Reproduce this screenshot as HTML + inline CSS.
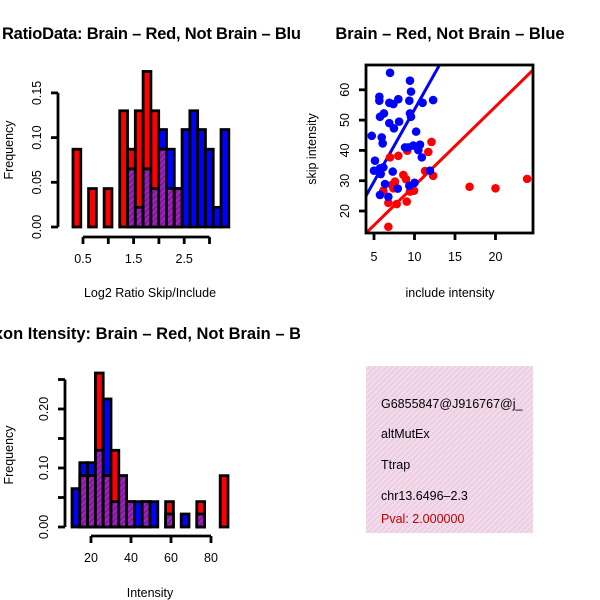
<!DOCTYPE html>
<html><head><meta charset="utf-8"><style>
body{margin:0;background:#fff;}
svg{display:block;font-family:"Liberation Sans",sans-serif;}
</style></head><body>
<svg id="c" width="600" height="600" viewBox="0 0 600 600">
<defs>
<clipPath id="left"><rect x="0" y="0" width="300" height="600"/></clipPath>
<clipPath id="sc"><rect x="366" y="65" width="167" height="168"/></clipPath>
<pattern id="hatch" width="4" height="4" patternUnits="userSpaceOnUse" patternTransform="rotate(45)">
<rect width="4" height="4" fill="#a020c0"/><rect width="1.5" height="4" fill="#7a1890"/></pattern>
<pattern id="pink" width="4" height="4" patternUnits="userSpaceOnUse" patternTransform="rotate(45)">
<rect width="4" height="4" fill="#f6d8f0"/><rect width="1.5" height="4" fill="#e6d0d8"/></pattern>
</defs>
<g clip-path="url(#left)">
<text x="301" y="39" text-anchor="end" font-size="16.5" font-weight="bold" textLength="342">Log2 RatioData: Brain – Red, Not Brain – Blu</text>
<text x="301" y="339" text-anchor="end" font-size="16.5" font-weight="bold">Exon Itensity: Brain – Red, Not Brain – B</text>
</g>
<text x="450" y="39" text-anchor="middle" font-size="16.5" font-weight="bold">Brain – Red, Not Brain – Blue</text>
<g id="p1"></g>
<g id="p2"></g>
<g id="p3"></g>
<g>
<rect x="366" y="366" width="167" height="167" fill="url(#pink)"/>
<text x="381" y="408" font-size="12.5">G6855847@J916767@j_</text>
<text x="381" y="438" font-size="12.5">altMutEx</text>
<text x="381" y="469" font-size="12.5">Ttrap</text>
<text x="381" y="500" font-size="12.5">chr13.6496–2.3</text>
<text x="381" y="523" font-size="12.5" fill="#c00000">Pval: 2.000000</text>
</g>
</svg>
<script>
// Panel 1 data
const ratioBinStart = 0.302;
const ratioBinWidth = 0.154;
const ratioRed = [0.087,0,0.043,0,0.043,0,0.13,0.087,0.13,0.174,0.13,0.087,0.043,0.043,0,0,0,0,0,0];
const ratioBlue = [0,0,0,0,0,0,0,0.065,0.022,0.065,0.043,0.109,0.087,0.043,0.109,0.13,0.109,0.087,0.022,0.109];
const ratioXTicks = [0.5,1.0,1.5,2.0,2.5,3.0];
const ratioXLabels = ["0.5","","1.5","","2.5",""];
const ratioYTicks = [0,0.05,0.10,0.15];
const ratioYLabels = ["0.00","0.05","0.10","0.15"];
// Panel 3 data
const intBinStart = 10.5;
const intBinWidth = 3.9;
const intRed = [0,0.087,0.087,0.261,0.087,0.13,0.087,0.043,0,0.043,0,0,0.043,0,0,0,0.043,0,0,0.087];
const intBlue = [0.065,0.109,0.109,0.13,0.217,0.043,0.087,0.043,0.043,0.043,0.043,0,0.022,0,0.022,0,0.022,0,0,0];
const intXTicks = [20,40,60,80];
const intYTicks = [0,0.05,0.10,0.15,0.20,0.25];
const intYLabels = ["0.00","","0.10","","0.20",""];
// Panel 2 data
const blueInclude = [6.98,5.66,5.66,6.89,7.39,8.0,9.44,9.57,9.36,11.0,12.3,6.23,5.74,6.89,8.1,7.46,9.44,9.57,10.2,4.72,5.95,6.07,9.23,9.85,10.68,10.47,10.9,5.12,6.15,5.0,5.83,7.31,11.9,6.36,7.93,9.36,10.0,5.74,6.77,5.74,8.83];
const blueSkip = [65.6,57.7,56.4,55.7,55.3,56.9,63.0,59.4,56.4,55.7,56.6,52.2,51.1,49.0,49.5,47.3,52.2,51.1,46.2,44.8,44.3,42.3,41.0,41.6,41.9,40.1,37.7,36.6,34.4,33.3,32.2,33.0,33.3,28.9,27.4,28.3,29.3,25.3,24.7,34.1,41.0];
const redInclude = [6.98,8.0,12.1,11.7,9.11,8.62,8.95,11.3,12.3,6.15,7.59,7.39,9.94,9.04,6.77,7.8,6.77,16.8,20.0,23.9,9.44,7.19];
const redSkip = [37.7,38.2,42.8,39.5,39.9,31.9,30.5,33.2,31.6,26.7,29.7,27.5,26.7,23.1,22.7,22.3,14.8,28.0,27.5,30.6,26.4,28.6];
const blueFit = [5.9,4.76];   // intercept, slope
const redFit = [2.25,2.61];
const scXTicks = [5,10,15,20];
const scYTicks = [20,30,40,50,60];

const NS="http://www.w3.org/2000/svg";
function mk(parent,tag,attrs){const e=document.createElementNS(NS,tag);for(const k in attrs)e.setAttribute(k,attrs[k]);parent.appendChild(e);return e;}

function histogram(g,start,width,red,blue,xs,ys){
  for(let i=0;i<red.length;i++){
    const x0=xs(start+i*width), x1=xs(start+(i+1)*width);
    const r=red[i], b=blue[i];
    const hi=Math.max(r,b), lo=Math.min(r,b);
    if(hi>0){
      const el=mk(g,'rect',{x:x0,y:ys(hi),width:x1-x0,height:ys(0)-ys(hi),fill:r>=b?'#ff0000':'#0000ff',stroke:'#000','stroke-width':2.8});
      
      
    }
    if(lo>0){
      const el=mk(g,'rect',{x:x0,y:ys(lo),width:x1-x0,height:ys(0)-ys(lo),fill:'url(#hatch)',stroke:'#000','stroke-width':2.8});
      
      
    }
  }
}
function yAxis(g,x,ys,ticks,labels){
  const l=mk(g,'line',{x1:x,x2:x,y1:ys(ticks[0]),y2:ys(ticks[ticks.length-1]),stroke:'#000','stroke-width':2.8});
  
  
  ticks.forEach((t,i)=>{
    mk(g,'line',{x1:x-7,x2:x,y1:ys(t),y2:ys(t),stroke:'#000','stroke-width':2.8});
    if(labels[i]){const tx=mk(g,'text',{x:0,y:0,'font-size':12.5,'text-anchor':'middle',transform:`translate(${x-17},${ys(t)}) rotate(-90)`});tx.textContent=labels[i];
      
      }
  });
}
function xAxis(g,y,xs,ticks,labels){
  const l=mk(g,'line',{x1:xs(ticks[0]),x2:xs(ticks[ticks.length-1]),y1:y,y2:y,stroke:'#000','stroke-width':2.8});
  
  
  ticks.forEach((t,i)=>{
    mk(g,'line',{x1:xs(t),x2:xs(t),y1:y,y2:y+7,stroke:'#000','stroke-width':2.8});
    if(labels[i]){const tx=mk(g,'text',{x:xs(t),y:y+26,'font-size':12.5,'text-anchor':'middle'});tx.textContent=labels[i];
      
      }
  });
}
function label(g,x,y,txt,rot,name){
  const t=mk(g,'text',{x:0,y:0,'font-size':12.5,'text-anchor':'middle',transform:`translate(${x},${y})`+(rot?' rotate(-90)':'')});
  t.textContent=txt;
  
  
}

// Panel 1
{const g=document.getElementById('p1');
 const xs=v=>83+(v-0.5)*50.6, ys=v=>227-v*894;
 histogram(g,ratioBinStart,ratioBinWidth,ratioRed,ratioBlue,xs,ys);
 yAxis(g,58,ys,ratioYTicks,ratioYLabels);
 xAxis(g,237,xs,ratioXTicks,ratioXLabels);
 label(g,13,150,'Frequency',true,'y-axis-title');
 label(g,150,297,'Log2 Ratio Skip/Include',false,'x-axis-title');}
// Panel 3
{const g=document.getElementById('p3');
 const xs=v=>91+(v-20)*2.0, ys=v=>527-v*590;
 histogram(g,intBinStart,intBinWidth,intRed,intBlue,xs,ys);
 yAxis(g,65,ys,intYTicks,intYLabels);
 xAxis(g,536,xs,intXTicks,intXTicks.map(String));
 label(g,13,455,'Frequency',true,'y-axis-title');
 label(g,150,597,'Intensity',false,'x-axis-title');}
// Panel 2
{const g=document.getElementById('p2');
 const xs=v=>374+(v-5)*8.1, ys=v=>211-(v-20)*3.03;
 const cg=mk(g,'g',{'clip-path':'url(#sc)'});
 [[redFit,'#ff0000','fit-line-red'],[blueFit,'#0000ff','fit-line-blue']].forEach(([f,c,n])=>{
   const l=mk(cg,'line',{x1:xs(0),y1:ys(f[0]),x2:xs(30),y2:ys(f[0]+f[1]*30),stroke:c,'stroke-width':3});
   
   
 });
 redInclude.forEach((v,i)=>{const c=mk(cg,'circle',{cx:xs(v),cy:ys(redSkip[i]),r:4.3,fill:'#ff0000'});
   
   });
 blueInclude.forEach((v,i)=>{const c=mk(cg,'circle',{cx:xs(v),cy:ys(blueSkip[i]),r:4.3,fill:'#0000ff'});
   
   });
 const b=mk(g,'rect',{x:366,y:65,width:167,height:168,fill:'none',stroke:'#000','stroke-width':2.8});
 
 
 scXTicks.forEach(t=>{mk(g,'line',{x1:xs(t),x2:xs(t),y1:233,y2:240,stroke:'#000','stroke-width':2.8});
   const tx=mk(g,'text',{x:xs(t),y:261,'font-size':12.5,'text-anchor':'middle'});tx.textContent=t;
   
   });
 scYTicks.forEach(t=>{mk(g,'line',{x1:359,x2:366,y1:ys(t),y2:ys(t),stroke:'#000','stroke-width':2.8});
   const tx=mk(g,'text',{x:0,y:0,'font-size':12.5,'text-anchor':'middle',transform:`translate(${349},${ys(t)}) rotate(-90)`});tx.textContent=t;
   
   });
 label(g,316,149,'skip intensity',true,'y-axis-title');
 label(g,450,297,'include intensity',false,'x-axis-title');}
</script>
</body></html>
